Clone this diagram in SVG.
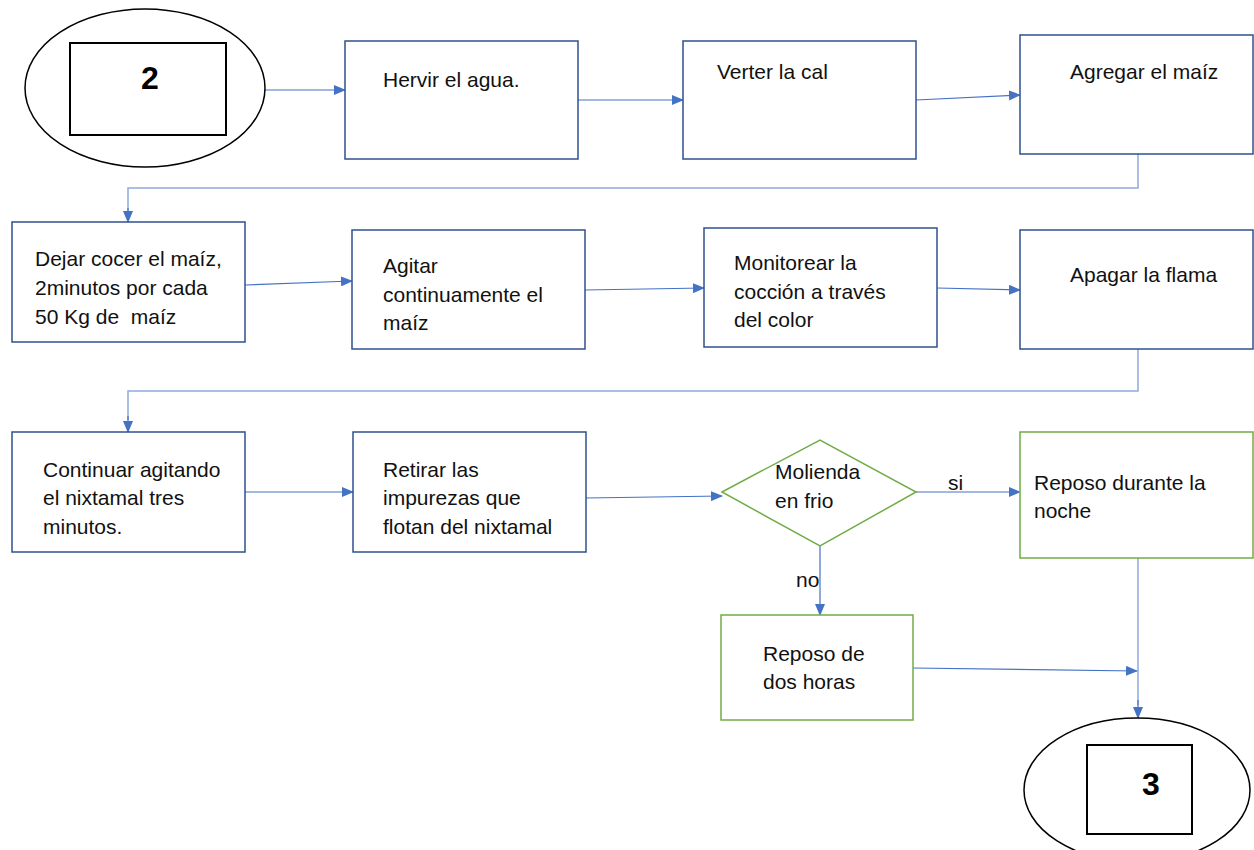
<svg xmlns="http://www.w3.org/2000/svg" width="1254" height="850" viewBox="0 0 1254 850">
  <defs>
    <marker id="arrow" markerWidth="12" markerHeight="10" refX="11" refY="5" orient="auto" markerUnits="userSpaceOnUse">
      <path d="M0,0 L12,5 L0,10 Z" fill="#4472C4"/>
    </marker>
    <style>
      .box { fill: #ffffff; stroke: #2F528F; stroke-width: 1.5; }
      .gbox { fill: #ffffff; stroke: #70AD47; stroke-width: 1.5; }
      .oval { fill: #ffffff; stroke: #000000; stroke-width: 1.5; }
      .inner { fill: #ffffff; stroke: #000000; stroke-width: 2; }
      .link { fill: none; stroke: #4472C4; stroke-width: 1.2; marker-end: url(#arrow); }
      .pale { fill: none; stroke: #8FAADC; stroke-width: 1.5; }
      .t { font-family: "Liberation Sans", Arial, sans-serif; font-size: 21px; fill: #111111; }
      .num { font-family: "Liberation Sans", Arial, sans-serif; font-size: 32px; font-weight: bold; fill: #000000; text-anchor: middle; }
    </style>
  </defs>

  <rect width="1254" height="850" fill="#ffffff"/>

  <!-- connectors -->
  <g id="connectors">
    <path class="link" d="M265,90 L345,90"/>
    <path class="link" d="M578,100 L683,100"/>
    <path class="link" d="M916,100 L1020,95"/>
    <path class="pale" d="M1138,154 L1138,188 L128,188 L128,212"/>
    <path class="link" d="M128,208 L128,222"/>
    <path class="link" d="M245,285 L352,281"/>
    <path class="link" d="M585,290 L704,288"/>
    <path class="link" d="M937,288 L1020,290"/>
    <path class="pale" d="M1138,349 L1138,391 L128,391 L128,420"/>
    <path class="link" d="M128,416 L128,432"/>
    <path class="link" d="M245,492 L353,492"/>
    <path class="link" d="M586,498 L722,496"/>
    <path class="link" d="M916,492 L1020,492"/>
    <path class="link" d="M820,546 L820,615"/>
    <path class="pale" d="M1138,558 L1138,705"/>
    <path class="link" d="M1138,700 L1138,718"/>
    <path class="link" d="M913,668 L1137,671"/>
    <text class="t" x="948" y="490">si</text>
    <text class="t" x="796" y="587">no</text>
  </g>

  <!-- start connector 2 -->
  <g id="start">
    <ellipse class="oval" cx="145" cy="88" rx="120" ry="79"/>
    <rect class="inner" x="70" y="43" width="156" height="92"/>
    <text class="num" x="150" y="89">2</text>
  </g>

  <g id="hervir">
    <rect class="box" x="345" y="41" width="233" height="118"/>
    <text class="t" x="383" y="87">Hervir el agua.</text>
  </g>

  <g id="verter">
    <rect class="box" x="683" y="41" width="233" height="118"/>
    <text class="t" x="717" y="79">Verter la cal</text>
  </g>

  <g id="agregar">
    <rect class="box" x="1020" y="35" width="233" height="119"/>
    <text class="t" x="1070" y="79">Agregar el maíz</text>
  </g>

  <g id="dejar">
    <rect class="box" x="12" y="222" width="233" height="120"/>
    <text class="t" x="35" y="266">Dejar cocer el maíz,</text>
    <text class="t" x="35" y="295">2minutos por cada</text>
    <text class="t" x="35" y="324" xml:space="preserve">50 Kg de  maíz</text>
  </g>

  <g id="agitar">
    <rect class="box" x="352" y="230" width="233" height="119"/>
    <text class="t" x="383" y="273">Agitar</text>
    <text class="t" x="383" y="302">continuamente el</text>
    <text class="t" x="383" y="330">maíz</text>
  </g>

  <g id="monitorear">
    <rect class="box" x="704" y="228" width="233" height="119"/>
    <text class="t" x="734" y="270">Monitorear la</text>
    <text class="t" x="734" y="299">cocción a través</text>
    <text class="t" x="734" y="327">del color</text>
  </g>

  <g id="apagar">
    <rect class="box" x="1020" y="230" width="233" height="119"/>
    <text class="t" x="1070" y="282">Apagar la flama</text>
  </g>

  <g id="continuar">
    <rect class="box" x="12" y="432" width="233" height="120"/>
    <text class="t" x="43" y="477">Continuar agitando</text>
    <text class="t" x="43" y="505">el nixtamal tres</text>
    <text class="t" x="43" y="534">minutos.</text>
  </g>

  <g id="retirar">
    <rect class="box" x="353" y="432" width="233" height="120"/>
    <text class="t" x="383" y="477">Retirar las</text>
    <text class="t" x="383" y="505">impurezas que</text>
    <text class="t" x="383" y="534">flotan del nixtamal</text>
  </g>

  <g id="molienda">
    <polygon class="gbox" points="722,492 820,440 916,492 820,546"/>
    <text class="t" x="775" y="479">Molienda</text>
    <text class="t" x="775" y="508">en frio</text>
  </g>

  <g id="reposo-noche">
    <rect class="gbox" x="1020" y="432" width="233" height="126"/>
    <text class="t" x="1034" y="490">Reposo durante la</text>
    <text class="t" x="1034" y="518">noche</text>
  </g>

  <g id="reposo-horas">
    <rect class="gbox" x="721" y="615" width="192" height="105"/>
    <text class="t" x="763" y="661">Reposo de</text>
    <text class="t" x="763" y="689">dos horas</text>
  </g>

  <!-- end connector 3 -->
  <g id="end">
    <ellipse class="oval" cx="1137" cy="790" rx="113" ry="72"/>
    <rect class="inner" x="1087" y="745" width="105" height="89"/>
    <text class="num" x="1151" y="795">3</text>
  </g>
</svg>
